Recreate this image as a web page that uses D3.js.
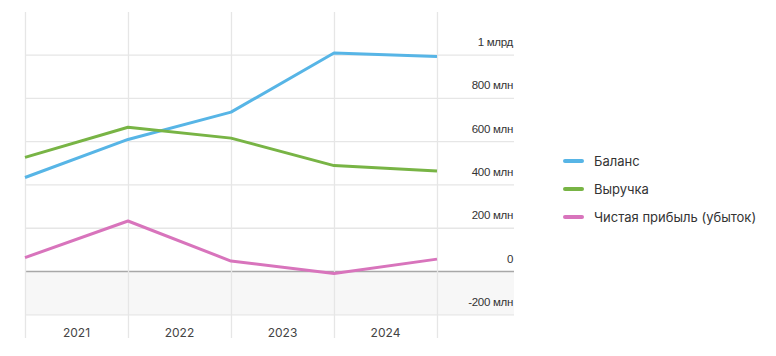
<!DOCTYPE html>
<html><head><meta charset="utf-8">
<script src="https://cdn.jsdelivr.net/npm/d3@7"></script>
<style>
html,body{margin:0;padding:0;background:#fff;}
svg{display:block;font-family:Inter, "Noto Sans", sans-serif;}
</style></head>
<body><svg id="c" width="776" height="356"></svg>
<script>
const periods = [0, 1, 2, 3, 4];
const years = ["2021", "2022", "2023", "2024"];
const balance = [432, 608, 734, 1007, 991];
const revenue = [525, 664, 614, 487, 462];
const profit = [62, 231, 46, -11, 55];
const yTicks = [-200, 0, 200, 400, 600, 800, 1000];
const yTickLabels = ["-200 млн", "0", "200 млн", "400 млн", "600 млн", "800 млн", "1 млрд"];
const seriesNames = ["Баланс", "Выручка", "Чистая прибыль (убыток)"];
const colors = ["#57b5e6", "#78b445", "#d874bc"];

const svg = d3.select("#c");
const x = d3.scaleLinear().domain([0, 4]).range([25, 437]);
const y = d3.scaleLinear().domain([-200, 1200]).range([314.3, 11.3]);
const gridRight = 514;

// negative shading
svg.append("rect").attr("x", 25).attr("y", y(0)).attr("width", gridRight - 25)
  .attr("height", y(-200) - y(0)).attr("fill", "#f7f7f7");

// horizontal grid
const yAxis = d3.axisRight(y).tickValues(yTicks).tickSize(gridRight - 25)
  .tickFormat((d, i) => yTickLabels[i]);
const gy = svg.append("g").attr("transform", "translate(25,0)").call(yAxis);
gy.select(".domain").remove();
gy.selectAll(".tick line").attr("stroke", d => d === 0 ? "#a8a8a8" : "#e6e6e6").attr("stroke-width", 1.3);
gy.selectAll(".tick text").attr("x", gridRight - 25 - 1).attr("dy", -9)
  .attr("text-anchor", "end").attr("fill", "#333").attr("font-size", 11.5)
  .attr("letter-spacing", "-0.3");

// vertical grid
const xAxis = d3.axisBottom(x).tickValues(periods).tickSize(338 - 12).tickFormat("");
const gx = svg.append("g").attr("transform", "translate(0,12)").call(xAxis);
gx.select(".domain").remove();
gx.selectAll(".tick line").attr("stroke", "#e6e6e6").attr("stroke-width", 1.3);

// year labels
svg.append("g").selectAll("text").data(years).join("text")
  .attr("x", (d, i) => x(i + 0.5)).attr("y", 337)
  .attr("text-anchor", "middle").attr("fill", "#444").attr("font-size", 12)
  .text(d => d);

// lines
const line = d3.line().x((d, i) => x(periods[i])).y(d => y(d));
[balance, revenue, profit].forEach((s, k) => {
  svg.append("path").datum(s).attr("d", line).attr("fill", "none")
    .attr("stroke", colors[k]).attr("stroke-width", 3).attr("stroke-linejoin", "round");
});

// legend
const lg = svg.append("g").selectAll("g").data(seriesNames).join("g")
  .attr("transform", (d, i) => `translate(565,${161 + i * 28})`);
lg.append("line").attr("x1", 0).attr("x2", 17).attr("y1", 0).attr("y2", 0)
  .attr("stroke", (d, i) => colors[i]).attr("stroke-width", 4).attr("stroke-linecap", "round");
lg.append("text").attr("x", 29).attr("y", 0).attr("dy", "0.35em")
  .attr("fill", "#333").attr("font-size", 13).text(d => d);
</script></body></html>
